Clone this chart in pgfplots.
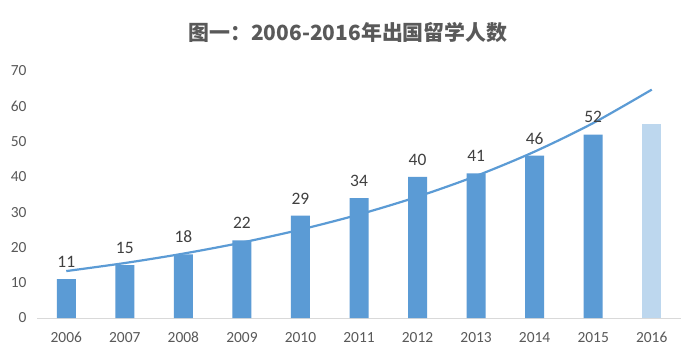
\documentclass[border=0pt]{standalone}
\usepackage{fontspec}
\setmainfont{Carlito}
\newfontfamily\cjk{Noto Sans CJK SC}
\usepackage{pgfplots}
\pgfplotsset{compat=1.18}
\definecolor{barblue}{HTML}{5B9BD5}
\definecolor{barlight}{HTML}{BDD7EE}
\definecolor{ticktxt}{HTML}{595959}
\definecolor{labtxt}{HTML}{404040}
\definecolor{axisgray}{HTML}{D9D9D9}
\begin{document}
\begin{tikzpicture}[x=1bp,y=1bp]
\path[use as bounding box, fill=white] (0,0) rectangle (685,353);
\node[font=\cjk\bfseries\fontsize{21}{24}\selectfont, text=ticktxt] at (348,320) {图一：2006-2016年出国留学人数};
\begin{axis}[
  at={(37bp,35bp)}, anchor=south west,
  scale only axis, width=644bp, height=247bp,
  xmin=-0.5, xmax=10.5, ymin=0, ymax=70,
  xtick={0,...,10},
  xticklabels={2006,2007,2008,2009,2010,2011,2012,2013,2014,2015,2016},
  ytick={0,10,...,70},
  axis x line=bottom, axis y line=left,
  x axis line style={draw=axisgray, line width=1bp, -},
  y axis line style={draw=none},
  major tick length=0pt,
  tick label style={font=\fontsize{15.5}{17}\selectfont, text=ticktxt},
  /pgf/number format/assume math mode=true,
  xticklabel style={anchor=north, text height=10bp, text depth=0pt, yshift=-11bp},
  yticklabel style={xshift=-7bp},
  clip=false,
]
\addplot[ybar, bar width=19bp, bar shift=0pt, fill=barblue, draw=none,
  nodes near coords, every node near coord/.append style={font=\fontsize{17.5}{19}\selectfont, text=labtxt, yshift=8bp}]
  coordinates {(0,11) (1,15) (2,18) (3,22) (4,29) (5,34) (6,40) (7,41) (8,46) (9,52)};
\addplot[ybar, bar width=19bp, bar shift=0pt, fill=barlight, draw=none]
  coordinates {(10,55)};
\addplot[barblue, line width=2.2bp, smooth, no marks]
  coordinates {(0,13.30) (1,15.58) (2,18.25) (3,21.38) (4,25.05) (5,29.34) (6,34.37) (7,40.26) (8,47.16) (9,55.25) (10,64.72)};
\end{axis}
\end{tikzpicture}
\end{document}
